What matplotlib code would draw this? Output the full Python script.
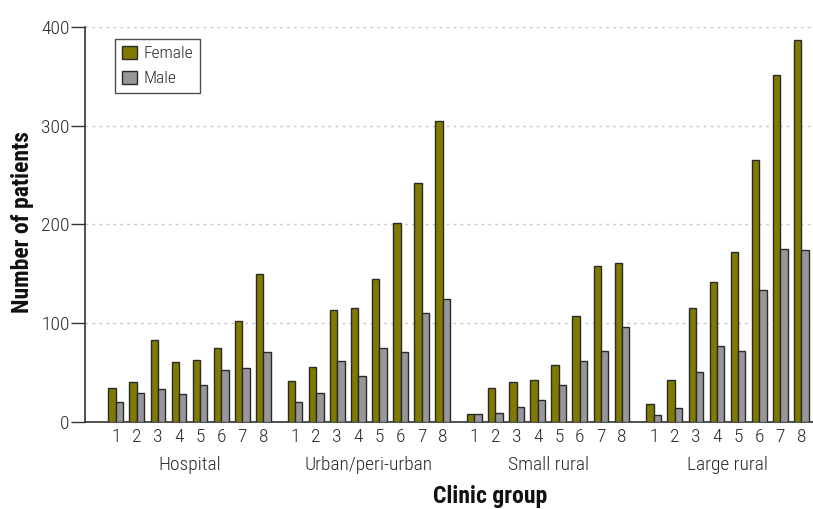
import matplotlib
matplotlib.use("Agg")
import matplotlib.pyplot as plt
import numpy as np
from matplotlib.transforms import blended_transform_factory

plt.rcParams['font.family'] = ['Roboto Condensed', 'DejaVu Sans']

groups = ["Hospital", "Urban/peri-urban", "Small rural", "Large rural"]
clinics = ["1", "2", "3", "4", "5", "6", "7", "8"]

female_hospital = [34, 40, 83, 61, 63, 75, 102, 150]
male_hospital = [20, 29, 33, 28, 37, 53, 55, 71]
female_urban = [41, 56, 113, 115, 145, 201, 242, 305]
male_urban = [20, 29, 62, 47, 75, 71, 110, 124]
female_small = [8, 34, 40, 43, 58, 107, 158, 161]
male_small = [8, 9, 15, 22, 37, 62, 72, 96]
female_large = [18, 43, 115, 142, 172, 265, 351, 387]
male_large = [7, 14, 51, 77, 72, 134, 175, 174]

female = [female_hospital, female_urban, female_small, female_large]
male = [male_hospital, male_urban, male_small, male_large]

female_color = "#807a00"
male_color = "#97979b"
edge = "#2a2a2a"
text_color = "#2a2a2a"

fig = plt.figure(figsize=(8.13, 5.09), dpi=100)
ax = fig.add_axes([85/813, 87/509, 728/813, (422-26.7)/509])

group_step = 8.5
bw = 0.35
xticks, xlabels = [], []
for g in range(len(groups)):
    x = g * group_step + np.arange(len(clinics))
    ax.bar(x - bw/2, female[g], width=bw, color=female_color, edgecolor=edge,
           linewidth=1.0, label="Female" if g == 0 else None, zorder=3)
    ax.bar(x + bw/2, male[g], width=bw, color=male_color, edgecolor=edge,
           linewidth=1.0, label="Male" if g == 0 else None, zorder=3)
    xticks.extend(x)
    xlabels.extend(clinics)

ax.set_xlim(-1.455, 33.05)
ax.set_ylim(0, 400)
ax.set_xticks(xticks)
ax.set_xticklabels(xlabels, fontsize=14, color=text_color, fontweight="light")
ax.tick_params(axis='x', length=0, pad=4)
ax.set_yticks([0, 100, 200, 300, 400])
ax.set_yticklabels(["0", "100", "200", "300", "400"], fontsize=14,
                   color=text_color, fontweight="light")
ax.tick_params(axis='y', length=10, width=1, color="#333333", pad=1)

ax.yaxis.grid(True, color="#c8c8c8", linestyle=(0, (2, 3)), linewidth=1)
ax.set_axisbelow(True)
for s in ["top", "right"]:
    ax.spines[s].set_visible(False)
for s in ["left", "bottom"]:
    ax.spines[s].set_color("#333333")
    ax.spines[s].set_linewidth(1.2)

trans = blended_transform_factory(ax.transData, fig.transFigure)
for g, name in enumerate(groups):
    ax.text(g * group_step + 3.5, 1 - 465/509, name, transform=trans,
            ha="center", va="center", fontsize=14, color=text_color,
            fontweight="light")

fig.text(490/813, 1 - 496/509, "Clinic group", ha="center", va="center",
         fontsize=17, fontweight="bold", color="#111111")
fig.text(23/813, 1 - 222/509, "Number of patients", ha="center", va="center",
         rotation=90, fontsize=17, fontweight="bold", color="#111111")

leg = ax.legend(loc="upper left", bbox_to_anchor=((115-85)/728, (422-39)/395.3),
                prop={"size": 12.5, "weight": "light"}, frameon=True, fancybox=False,
                edgecolor="#222222", handlelength=0.85, handleheight=0.75,
                handletextpad=0.4, borderpad=0.4, labelspacing=0.55,
                borderaxespad=0)
leg.get_frame().set_linewidth(1.0)
for t in leg.get_texts():
    t.set_color(text_color)

fig.savefig("out.png", dpi=100)
